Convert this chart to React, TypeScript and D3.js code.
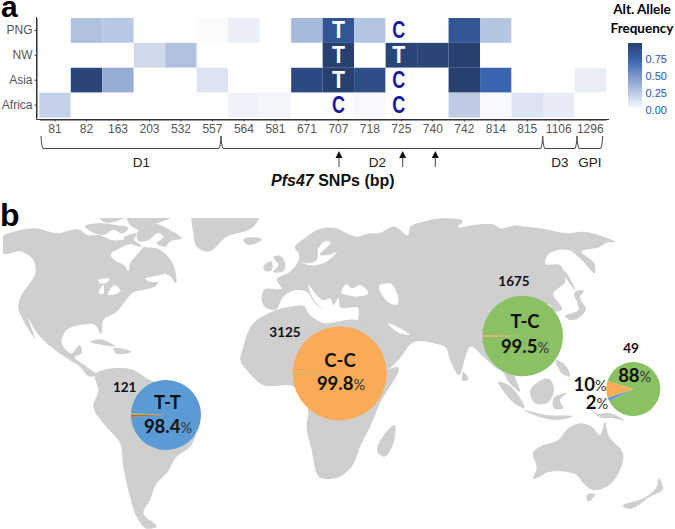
import React, { useEffect, useRef } from 'react'
import * as d3 from 'd3'

const snps = ['81', '82', '163', '203', '532', '557', '564', '581', '671', '707', '718', '725', '740', '742', '814', '815', '1106', '1296']
const regions = ['PNG', 'NW', 'Asia', 'Africa']

const freqPNG = [0, 0.3, 0.27, 0, 0, 0.02, 0.08, 0, 0.33, 0.85, 0.28, 0, 0.01, 0.85, 0.28, 0, 0, 0]
const freqNW = [0, 0, 0, 0.18, 0.3, 0, 0, 0.005, 0, 1, 0, 0.96, 0.96, 1, 0, 0, 0, 0]
const freqAsia = [0, 0.96, 0.4, 0, 0, 0.13, 0, 0, 0.93, 1, 0.9, 0, 0, 1, 0.75, 0, 0, 0.08]
const freqAfrica = [0.22, 0, 0, 0, 0, 0, 0.06, 0.05, 0, 0, 0.03, 0, 0, 0.25, 0.03, 0.13, 0.09, 0]
const freqs = [freqPNG, freqNW, freqAsia, freqAfrica]

// alleles printed on the cells: one letter per region
const allele707 = ['T', 'T', 'T', 'C']
const allele725 = ['C', 'T', 'C', 'C']

const legendTicks = [0, 0.25, 0.5, 0.75]

const domains = [
  { name: 'D1', from: 41, to: 221, labelX: 141.5 },
  { name: 'D2', from: 221, to: 542.7, labelX: 377.5 },
  { name: 'D3', from: 542.7, to: 577, labelX: 560 },
  { name: 'GPI', from: 577, to: 602.7, labelX: 590 },
]
const arrowSnps = [339, 402.7, 435.3]

const blue = '#5b9bd5'
const orange = '#f9ab58'
const green = '#8ac163'
const brick = '#c8641e'

const pies = [
  { n: '121', name: 'T-T', pct: '98.4', values: [98.4, 0.9, 0.7], colors: [blue, brick, green], start: 272.9, cx: 166, cy: 415, r: 35 },
  { n: '3125', name: 'C-C', pct: '99.8', values: [99.8, 0.2], colors: [orange, green], start: 270.4, cx: 339.7, cy: 373.5, r: 47 },
  { n: '1675', name: 'T-C', pct: '99.5', values: [99.5, 0.5], colors: [green, orange], start: 270.9, cx: 522.7, cy: 336, r: 40.3 },
  { n: '49', name: '', pct: '88', values: [88, 2, 10], colors: [green, blue, orange], start: 287, cx: 633.3, cy: 389, r: 27 },
]

// land outlines on a 3x grid of the picture, y counted from the top of panel b
const land: [number, number][][] = [
  // north america
  [[8, 140], [50, 123], [105, 115], [170, 130], [240, 120], [262, 135], [300, 136], [335, 150], [400, 150], [430, 170], [470, 175], [500, 195], [520, 225], [527, 280], [505, 255], [480, 260], [470, 285], [430, 300], [400, 307], [375, 335], [350, 365], [310, 390], [303, 432], [285, 405], [240, 405], [195, 425], [185, 460], [215, 490], [240, 465], [245, 490], [225, 500], [260, 530], [290, 555], [270, 560], [240, 530], [200, 505], [165, 480], [130, 450], [105, 420], [85, 385], [105, 445], [72, 395], [55, 355], [60, 325], [85, 285], [105, 255], [100, 210], [65, 185], [8, 190]],
  // arctic islands
  [[255, 110], [300, 100], [345, 105], [385, 115], [370, 130], [340, 120], [310, 135], [275, 125]],
  [[300, 85], [370, 85], [345, 95], [310, 95]],
  [[380, 85], [515, 83], [470, 100], [420, 120], [390, 105]],
  [[370, 145], [410, 130], [395, 155]],
  [[410, 135], [450, 100], [510, 120], [545, 145], [510, 155], [495, 170], [470, 160], [490, 140], [478, 130], [440, 153], [415, 153]],
  // greenland
  [[575, 70], [785, 70], [760, 110], [680, 140], [620, 185], [590, 170], [580, 130]],
  // iceland
  [[730, 150], [765, 142], [785, 148], [760, 163], [740, 163]],
  // caribbean
  [[270, 455], [300, 448], [345, 470], [310, 465]],
  [[340, 478], [395, 485], [345, 488]],
  // south america
  [[285, 555], [340, 535], [400, 540], [440, 565], [520, 600], [590, 670], [570, 770], [530, 800], [500, 850], [470, 880], [450, 930], [430, 970], [470, 1010], [440, 1016], [410, 980], [390, 920], [370, 830], [360, 760], [310, 700], [280, 650], [295, 600]],
  // eurasia
  [[885, 175], [920, 140], [960, 117], [1010, 115], [1040, 130], [1070, 140], [1110, 130], [1135, 130], [1185, 110], [1225, 135], [1230, 112], [1270, 95], [1345, 85], [1388, 95], [1375, 108], [1440, 103], [1480, 103], [1500, 115], [1540, 107], [1580, 110], [1635, 117], [1700, 130], [1750, 125], [1810, 140], [1845, 155], [1820, 158], [1800, 170], [1745, 185], [1785, 225], [1785, 248], [1745, 210], [1705, 180], [1640, 200], [1635, 220], [1680, 225], [1695, 275], [1660, 310], [1685, 360], [1665, 365], [1650, 345], [1620, 480], [1590, 545], [1545, 545], [1560, 605], [1525, 575], [1510, 548], [1490, 535], [1450, 500], [1415, 470], [1375, 555], [1350, 510], [1335, 470], [1310, 462], [1245, 455], [1190, 515], [1160, 540], [1105, 470], [1075, 390], [1075, 355], [1020, 350], [1015, 325], [1000, 345], [990, 325], [975, 330], [925, 285], [945, 335], [980, 365], [945, 340], [920, 305], [890, 300], [850, 320], [825, 360], [790, 345], [785, 330], [792, 300], [845, 295], [830, 270], [870, 245], [885, 230], [898, 195]],
  // britain and ireland
  [[820, 200], [838, 197], [855, 235], [850, 243], [820, 245], [835, 225]],
  [[790, 230], [815, 215], [815, 240], [795, 243]],
  // africa
  [[730, 470], [760, 400], [815, 365], [870, 350], [915, 350], [925, 370], [960, 395], [1070, 390], [1078, 392], [1115, 480], [1155, 540], [1190, 530], [1135, 650], [1115, 700], [1080, 770], [1055, 830], [1005, 865], [965, 865], [935, 780], [920, 700], [925, 670], [880, 590], [790, 585], [740, 540], [722, 515]],
  // madagascar
  [[1135, 790], [1155, 730], [1183, 705], [1180, 760], [1150, 800]],
  // sri lanka
  [[1390, 545], [1405, 570], [1388, 572]],
  // sakhalin
  [[1680, 230], [1700, 250], [1725, 300], [1705, 275]],
  // japan
  [[1695, 380], [1735, 360], [1725, 305], [1752, 303], [1740, 320], [1758, 357], [1710, 390]],
  // philippines
  [[1668, 510], [1690, 520], [1710, 560], [1685, 550], [1675, 535]],
  // sumatra
  [[1495, 575], [1525, 585], [1570, 655], [1550, 645], [1515, 610]],
  // java and the lesser sundas
  [[1570, 660], [1640, 675], [1715, 680], [1690, 688], [1610, 678]],
  // borneo
  [[1590, 605], [1650, 568], [1662, 595], [1640, 640], [1605, 640]],
  // sulawesi
  [[1660, 625], [1700, 610], [1680, 630], [1690, 655], [1662, 655]],
  // new guinea
  [[1755, 625], [1790, 670], [1830, 670], [1875, 693], [1840, 685], [1800, 682], [1770, 655]],
  // australia
  [[1600, 785], [1620, 770], [1675, 750], [1705, 715], [1740, 700], [1775, 710], [1800, 735], [1815, 695], [1825, 735], [1870, 795], [1860, 840], [1820, 890], [1780, 900], [1750, 880], [1730, 855], [1695, 845], [1650, 845], [1600, 865], [1610, 835]],
  // tasmania
  [[1760, 915], [1785, 912], [1765, 935]],
  // new zealand
  [[1870, 950], [1930, 925], [1970, 890], [1975, 865], [1990, 895], [1950, 920], [1880, 955]],
]

// inland seas and lakes cut back out of the land
const water: [number, number][][] = [
  // hudson bay
  [[332, 195], [360, 175], [395, 163], [420, 170], [430, 167], [410, 195], [390, 220], [385, 243], [372, 225], [350, 215]],
  // great lakes
  [[295, 273], [330, 267], [315, 280], [300, 280]],
  [[297, 310], [310, 285], [308, 313]],
  [[325, 315], [345, 285], [360, 300], [340, 313]],
  [[335, 315], [370, 300], [345, 313]],
  // gulf of st lawrence
  [[435, 267], [480, 255], [500, 250], [465, 277]],
  // baltic
  [[980, 153], [955, 175], [950, 210], [920, 220], [900, 215], [925, 225], [970, 220], [1010, 185], [985, 195], [960, 195], [990, 155]],
  // black sea
  [[1025, 310], [1040, 283], [1055, 295], [1080, 285], [1105, 310], [1070, 320], [1040, 315]],
  // caspian
  [[1140, 285], [1170, 280], [1190, 345], [1170, 340]],
  // persian gulf
  [[1165, 400], [1180, 405], [1230, 435], [1190, 425]],
]

const width = 675
const height = 529

const x = d3.scaleBand().domain(snps).range([39.3, 606])
const y = d3.scaleBand().domain(regions).range([18, 117.5])
const color = d3.scaleLinear<string>().domain([0, 0.75, 1]).range(['#ffffff', '#3a63b0', '#27406f'])
const legendY = d3.scaleLinear().domain([0, 0.75]).range([110, 59])

const gridX = d3.scaleLinear().domain([0, 2025]).range([0, 675])
const gridY = d3.scaleLinear().domain([0, 1017]).range([190, 529])
const outline = d3.line<[number, number]>().x((d) => gridX(d[0])).y((d) => gridY(d[1])).curve(d3.curveCatmullRomClosed.alpha(1))

const arc = d3.arc<d3.PieArcDatum<number>>().innerRadius(0)

const LABEL = 'Lato, "Open Sans", sans-serif'
const AXIS = '"Liberation Sans", Arial, sans-serif'

const Pie = ({ p }: { p: (typeof pies)[number] }) => {
  const start = (p.start * Math.PI) / 180
  const slices = d3.pie<number>().sort(null).startAngle(start).endAngle(start + 2 * Math.PI)(p.values)
  return (
    <g transform={`translate(${p.cx},${p.cy})`}>
      {slices.map((s, i) => (
        <path key={i} d={arc({ ...s, outerRadius: p.r } as any) as string} fill={p.colors[i]} />
      ))}
    </g>
  )
}

const Pct = ({ x, y, value }: any) => (
  <text x={x} y={y} textAnchor="middle" fontFamily={LABEL} fontWeight={700} fontSize={18.5} fill="#111">
    {value}
    <tspan fontWeight={400} fontSize={14.5} fill="#333">%</tspan>
  </text>
)

const Count = ({ x, y, value }: any) => (
  <text x={x} y={y} textAnchor="middle" fontFamily={LABEL} fontWeight={700} fontSize={13.5} fill="#111">{value}</text>
)

const Name = ({ x, y, value }: any) => (
  <text x={x} y={y} textAnchor="middle" fontFamily={LABEL} fontWeight={700} fontSize={18.5} fill="#111">{value}</text>
)

export default function App() {
  const xAxisRef = useRef<SVGGElement>(null)
  const yAxisRef = useRef<SVGGElement>(null)

  useEffect(() => {
    const style = (g: any) => {
      g.select('.domain').attr('stroke', '#333').attr('stroke-width', 1)
      g.selectAll('.tick line').attr('stroke', '#444')
      g.selectAll('.tick text').attr('fill', '#555').attr('font-size', 12).attr('font-family', AXIS)
    }
    d3.select(xAxisRef.current).call(d3.axisBottom(x).tickSize(2).tickPadding(3).tickSizeOuter(0) as any).call(style)
    d3.select(yAxisRef.current).call(d3.axisLeft(y).tickSize(2).tickPadding(2).tickSizeOuter(0) as any).call(style)
  }, [])

  return (
    <svg width={width} height={height} style={{ position: 'absolute', left: 0, top: 0, background: '#fff' }}>
      <defs>
        <linearGradient id="freqRamp" x1="0" y1="1" x2="0" y2="0">
          {[0, 0.25, 0.5, 0.75, 1].map((v) => (
            <stop key={v} offset={`${v * 100}%`} stopColor={color(v)} />
          ))}
        </linearGradient>
        {/* the map picture is cropped flat at the top and left */}
        <clipPath id="mapCrop">
          <rect x={3} y={218} width={672} height={311} />
        </clipPath>
      </defs>

      <text x={1} y={17} fontFamily={AXIS} fontWeight={700} fontSize={30}>a</text>
      <text x={0} y={226} fontFamily={AXIS} fontWeight={700} fontSize={32}>b</text>

      {regions.map((region, r) =>
        snps.map((snp, c) => (
          <rect key={`${region}-${snp}`} x={x(snp)} y={y(region)} width={x.bandwidth()} height={y.bandwidth()} fill={color(freqs[r][c])} />
        )),
      )}
      <g ref={xAxisRef} transform="translate(0,119.5)" />
      <g ref={yAxisRef} transform="translate(36.5,0)" />
      <path d="M36.5,17V119.5H609" fill="none" stroke="#333" />

      {[{ snp: '707', letters: allele707, shift: 0 }, { snp: '725', letters: allele725, shift: -2.5 }].map(({ snp, letters, shift }) =>
        letters.map((l, i) => (
          <text
            key={`${snp}-${i}`}
            x={(x(snp) as number) + x.bandwidth() / 2 + shift}
            y={(y(regions[i]) as number) + y.bandwidth() / 2 + 8}
            textAnchor="middle"
            fontFamily={AXIS}
            fontWeight={700}
            fontSize={23}
            textLength={13}
            lengthAdjust="spacingAndGlyphs"
            fill={l === 'T' ? '#fff' : '#1616a8'}
          >
            {l}
          </text>
        )),
      )}

      {domains.map((d) => (
        <g key={d.name}>
          <path d={`M${d.from},136Q${d.from + 0.5},146 ${d.from + 2},148.5H${d.to - 2}Q${d.to - 0.5},146 ${d.to},136`} fill="none" stroke="#444" />
          <text x={d.labelX} y={167} textAnchor="middle" fontFamily={AXIS} fontSize={13.5} fill="#222">{d.name}</text>
        </g>
      ))}
      {arrowSnps.map((a) => (
        <g key={a}>
          <line x1={a} x2={a} y1={167} y2={156} stroke="#444" />
          <path d={`M${a},151L${a + 3.5},158H${a - 3.5}Z`} fill="#111" />
        </g>
      ))}
      <text x={271} y={186} fontFamily={AXIS} fontWeight={700} fontSize={16} fill="#111">
        <tspan fontStyle="italic">Pfs47</tspan> SNPs (bp)
      </text>

      <text x={642} y={14} textAnchor="middle" fontFamily={LABEL} fontWeight={700} fontSize={13.5}>Alt. Allele</text>
      <text x={642} y={33} textAnchor="middle" fontFamily={LABEL} fontWeight={700} fontSize={13.5}>Frequency</text>
      <rect x={628} y={43} width={14} height={67} fill="url(#freqRamp)" />
      {legendTicks.map((t) => (
        <text key={t} x={645.5} y={legendY(t) + 4} fontFamily={AXIS} fontSize={11} fill="#2255bb">{t.toFixed(2)}</text>
      ))}

      <g clipPath="url(#mapCrop)">
        <g fill="#cfcfcf">
          {land.map((l, i) => (
            <path key={i} d={outline(l) as string} />
          ))}
        </g>
        <g fill="#fff">
          {water.map((l, i) => (
            <path key={i} d={outline(l) as string} />
          ))}
        </g>
      </g>

      {pies.map((p) => (
        <Pie key={p.n} p={p} />
      ))}

      <Count x={124.7} y={391.7} value="121" />
      <Count x={285} y={337} value="3125" />
      <Count x={514} y={286} value="1675" />
      <Count x={631} y={352.7} value="49" />

      <Name x={167.5} y={409} value="T-T" />
      <Pct x={168} y={433} value="98.4" />
      <Name x={340} y={367} value="C-C" />
      <Pct x={341} y={390} value="99.8" />
      <Name x={525} y={328} value="T-C" />
      <Pct x={525} y={352.7} value="99.5" />
      <Pct x={634.7} y={381.7} value="88" />
      <Pct x={590} y={391} value="10" />
      <Pct x={597} y={409} value="2" />
    </svg>
  )
}
